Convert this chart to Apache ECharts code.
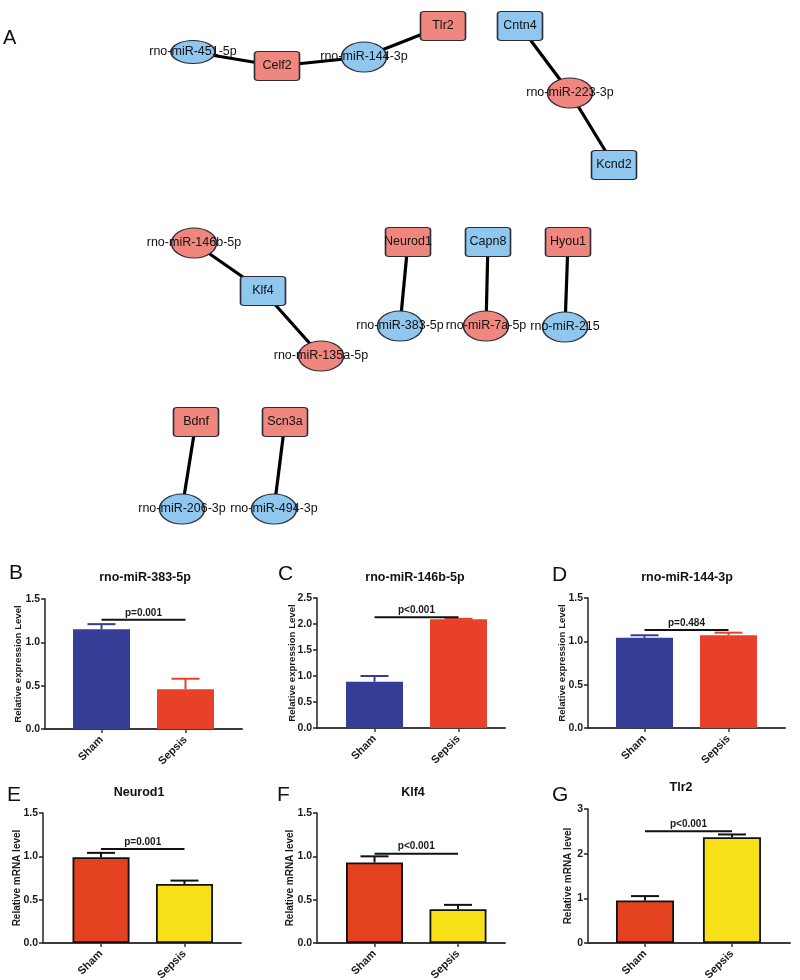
<!DOCTYPE html>
<html><head><meta charset="utf-8">
<script src="https://cdn.jsdelivr.net/npm/echarts@6/dist/echarts.min.js"></script>
<style>html,body{margin:0;padding:0;background:#fff}#c{width:800px;height:980px}</style>
</head><body><div id="c"></div>
<script>
// ---------------- data: bar panels ----------------
const groups = ['Sham', 'Sepsis'];
const panelLetters = ['B', 'C', 'D', 'E', 'F', 'G'];
const panelTitles = ['rno-miR-383-5p', 'rno-miR-146b-5p', 'rno-miR-144-3p', 'Neurod1', 'Klf4', 'Tlr2'];
const yAxisNames = ['Relative expression Level', 'Relative expression Level', 'Relative expression Level',
  'Relative mRNA level', 'Relative mRNA level', 'Relative mRNA level'];
const shamMean = [1.15, 0.89, 1.04, 0.99, 0.93, 0.95];
const shamUpper = [1.21, 1.00, 1.07, 1.04, 1.00, 1.05];
const sepsisMean = [0.46, 2.09, 1.07, 0.68, 0.39, 2.37];
const sepsisUpper = [0.58, 2.10, 1.10, 0.72, 0.44, 2.43];
const pLabels = ['p=0.001', 'p<0.001', 'p=0.484', 'p=0.001', 'p<0.001', 'p<0.001'];
const pBarLevel = [1.26, 2.13, 1.13, 1.085, 1.03, 2.5];
const yAxisMax = [1.5, 2.5, 1.5, 1.5, 1.5, 3];
const yAxisStep = [0.5, 0.5, 0.5, 0.5, 0.5, 1];
const yTickDecimals = [1, 1, 1, 1, 1, 0];

// ---------------- data: network (panel A) ----------------
const nodeNames = ['rno-miR-451-5p', 'Celf2', 'rno-miR-144-3p', 'Tlr2', 'Cntn4', 'rno-miR-223-3p', 'Kcnd2',
  'rno-miR-146b-5p', 'Klf4', 'rno-miR-135a-5p', 'Neurod1', 'rno-miR-383-5p', 'Capn8', 'rno-miR-7a-5p',
  'Hyou1', 'rno-miR-215', 'Bdnf', 'rno-miR-206-3p', 'Scn3a', 'rno-miR-494-3p'];
const nodeRegulation = ['down', 'up', 'down', 'up', 'down', 'up', 'down',
  'up', 'down', 'up', 'up', 'down', 'down', 'up',
  'up', 'down', 'up', 'down', 'up', 'down'];
const nodeX = [193, 277, 364, 443, 520, 570, 614, 194, 263, 321, 408, 400, 488, 486, 568, 565, 196, 182, 285, 274];
const nodeY = [52, 66, 57, 26, 26, 93, 165, 243, 291, 356, 242, 326, 242, 326, 242, 327, 422, 509, 422, 509];
const edgeList = [
  ['rno-miR-451-5p', 'Celf2'], ['Celf2', 'rno-miR-144-3p'], ['rno-miR-144-3p', 'Tlr2'],
  ['Cntn4', 'rno-miR-223-3p'], ['rno-miR-223-3p', 'Kcnd2'],
  ['rno-miR-146b-5p', 'Klf4'], ['Klf4', 'rno-miR-135a-5p'],
  ['Neurod1', 'rno-miR-383-5p'], ['Capn8', 'rno-miR-7a-5p'], ['Hyou1', 'rno-miR-215'],
  ['Bdnf', 'rno-miR-206-3p'], ['Scn3a', 'rno-miR-494-3p']
];

// ---------------- layout & styles ----------------
const FONT = 'Arial, "Liberation Sans", sans-serif';
const grids = [
  { left: 45, top: 599, width: 197, height: 130 },
  { left: 317, top: 598, width: 188, height: 130 },
  { left: 588, top: 598, width: 197, height: 130 },
  { left: 43, top: 813, width: 198, height: 130 },
  { left: 317, top: 813, width: 188, height: 130 },
  { left: 588, top: 809, width: 202, height: 134 }
];
const xRange = [[-0.673, 1.673], [-0.685, 1.554], [-0.673, 1.673], [-0.695, 1.677], [-0.689, 1.563], [-0.655, 1.667]];
const barWidths = [57, 57, 57, 57, 57, 58];
const nameGaps = [22, 20, 21, 21, 22, 15];
const titlePos = [[145, 578], [415, 578], [687, 578], [139, 793], [413, 793], [681, 788]];
const letterPos = [[9, 573], [278, 574], [552, 575], [7, 795], [277, 795], [552, 795]];
const BLUE = '#353D97', RED = '#E8412A', RED2 = '#E3411F', YELLOW = '#F7E018';
const PINK = '#F0877F', SKY = '#8FC7EE';

const option = {
  animation: false,
  backgroundColor: '#fff',
  grid: [], xAxis: [], yAxis: [], series: [], graphic: []
};

for (let i = 0; i < 6; i++) {
  const mrna = i >= 3;
  const colors = mrna ? [RED2, YELLOW] : [BLUE, RED];
  option.grid.push(Object.assign({ outerBoundsMode: 'none', containLabel: false }, grids[i]));
  option.xAxis.push({
    type: 'value', gridIndex: i, min: xRange[i][0], max: xRange[i][1],
    splitLine: { show: false },
    axisLine: { show: true, onZero: false, lineStyle: { color: '#3a3a3a', width: 2 } },
    axisTick: { show: true, customValues: [0, 1], length: 4, lineStyle: { color: '#3a3a3a', width: 1.5 } },
    axisLabel: {
      customValues: [0, 1], rotate: 45, margin: 9,
      formatter: v => groups[Math.round(v)] || '',
      fontFamily: FONT, fontWeight: 'bold', fontSize: 11, color: '#1a1a1a'
    }
  });
  option.yAxis.push({
    type: 'value', gridIndex: i, min: 0, max: yAxisMax[i], interval: yAxisStep[i],
    splitLine: { show: false },
    axisLine: { show: true, onZero: false, lineStyle: { color: '#222', width: 1.5 } },
    axisTick: { show: true, length: 4, lineStyle: { color: '#222', width: 1.5 } },
    axisLabel: {
      formatter: v => v.toFixed(yTickDecimals[i]), margin: 5,
      fontFamily: FONT, fontWeight: 'bold', fontSize: 10.5, color: '#1a1a1a'
    },
    name: yAxisNames[i], nameLocation: 'middle', nameGap: nameGaps[i], nameMoveOverlap: false,
    nameTextStyle: { fontFamily: FONT, fontWeight: 'bold', fontSize: mrna ? 10 : 9.6, color: '#1a1a1a' }
  });
  // bars
  option.series.push({
    type: 'bar', xAxisIndex: i, yAxisIndex: i, barWidth: barWidths[i], z: 2,
    data: [
      { value: [0, shamMean[i]], itemStyle: { color: colors[0], borderColor: mrna ? '#111' : colors[0], borderWidth: mrna ? 1.8 : 0 } },
      { value: [1, sepsisMean[i]], itemStyle: { color: colors[1], borderColor: mrna ? '#111' : colors[1], borderWidth: mrna ? 1.8 : 0 } }
    ]
  });
  // error bars (upper only)
  option.series.push({
    type: 'custom', xAxisIndex: i, yAxisIndex: i, z: 3,
    encode: { x: 0, y: [1, 2] },
    data: [[0, shamMean[i], shamUpper[i]], [1, sepsisMean[i], sepsisUpper[i]]],
    renderItem: (params, api) => {
      const x = api.value(0);
      const p0 = api.coord([x, api.value(1)]);
      const p1 = api.coord([x, api.value(2)]);
      const col = mrna ? '#111' : colors[params.dataIndex];
      const half = 14;
      return {
        type: 'group', children: [
          { type: 'line', shape: { x1: p0[0], y1: p0[1], x2: p1[0], y2: p1[1] }, style: { stroke: col, lineWidth: 2 } },
          { type: 'line', shape: { x1: p1[0] - half, y1: p1[1], x2: p1[0] + half, y2: p1[1] }, style: { stroke: col, lineWidth: 2 } }
        ]
      };
    }
  });
  // significance bar
  option.series.push({
    type: 'custom', xAxisIndex: i, yAxisIndex: i, z: 4,
    encode: { x: [0, 1], y: 2 },
    data: [[0, 1, pBarLevel[i]]],
    renderItem: (params, api) => {
      const a = api.coord([api.value(0), api.value(2)]);
      const b = api.coord([api.value(1), api.value(2)]);
      return {
        type: 'group', children: [
          { type: 'line', shape: { x1: a[0], y1: a[1], x2: b[0], y2: b[1] }, style: { stroke: '#111', lineWidth: 2 } },
          { type: 'text', x: (a[0] + b[0]) / 2, y: a[1] - 2,
            style: { text: pLabels[i], fill: '#1a1a1a', font: 'bold 10px ' + FONT, align: 'center', verticalAlign: 'bottom' } }
        ]
      };
    }
  });
  option.graphic.push({
    type: 'text', x: titlePos[i][0], y: titlePos[i][1],
    style: { text: panelTitles[i], fill: '#111', font: 'bold 12.5px ' + FONT, align: 'center', verticalAlign: 'middle' }
  });
  option.graphic.push({
    type: 'text', x: letterPos[i][0], y: letterPos[i][1],
    style: { text: panelLetters[i], fill: '#111', font: '21px ' + FONT, align: 'left', verticalAlign: 'middle' }
  });
}
option.graphic.push({
  type: 'text', x: 3, y: 38,
  style: { text: 'A', fill: '#111', font: '20px ' + FONT, align: 'left', verticalAlign: 'middle' }
});

// network panel on a full-canvas hidden cartesian
const NI = 6;
option.grid.push({ left: 0, top: 0, width: 800, height: 980, outerBoundsMode: 'none' });
option.xAxis.push({ type: 'value', gridIndex: NI, min: 0, max: 800, show: false });
option.yAxis.push({ type: 'value', gridIndex: NI, min: 0, max: 980, inverse: true, show: false });
const ELLIPSE = 'path://M0,50A50,50,0,1,1,100,50A50,50,0,1,1,0,50Z';
const BOX = 'path://M8,0H92A8,8,0,0,1,100,8V92A8,8,0,0,1,92,100H8A8,8,0,0,1,0,92V8A8,8,0,0,1,8,0Z';
option.series.push({
  type: 'graph', coordinateSystem: 'cartesian2d', xAxisIndex: NI, yAxisIndex: NI, layout: 'none',
  roam: false, z: 5,
  label: { show: true, position: 'inside', fontFamily: FONT, fontSize: 12.5, color: '#111' },
  lineStyle: { color: '#000', width: 3.2, opacity: 1, curveness: 0 },
  emphasis: { disabled: true },
  data: nodeNames.map((n, k) => {
    const isMi = n.indexOf('rno-') === 0;
    return {
      name: n, value: [nodeX[k], nodeY[k]],
      symbol: isMi ? ELLIPSE : BOX,
      symbolSize: isMi ? (n === 'rno-miR-451-5p' ? [44, 23] : [45, 30]) : [45, 29],
      itemStyle: { color: nodeRegulation[k] === 'up' ? PINK : SKY, borderColor: '#2b2b3a', borderWidth: 1.3 }
    };
  }),
  links: edgeList.map(e => ({ source: e[0], target: e[1] }))
});

const chart = echarts.init(document.getElementById('c'), null, { renderer: 'canvas' });
chart.setOption(option);
</script>
</body></html>
